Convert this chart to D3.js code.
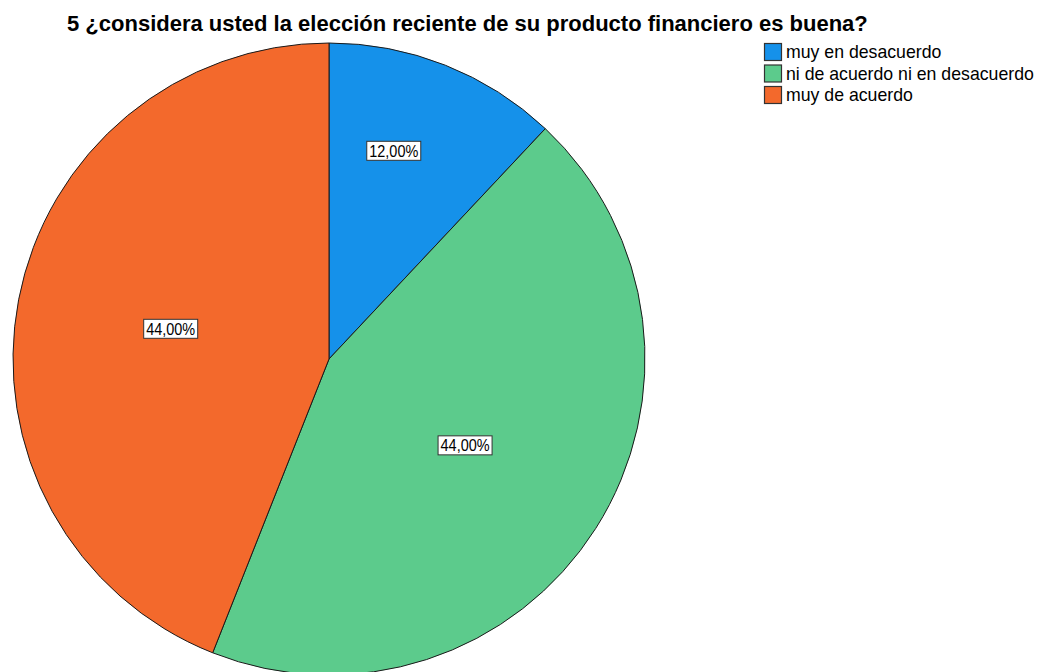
<!DOCTYPE html>
<html><head><meta charset="utf-8">
<script src="https://cdn.jsdelivr.net/npm/d3@7"></script>
<style>body{margin:0;background:#fff;} svg{display:block;}</style>
</head><body>
<svg id="c" width="1043" height="672"></svg>
<script>
const title = "5 ¿considera usted la elección reciente de su producto financiero es buena?";
const categories = ["muy en desacuerdo", "ni de acuerdo ni en desacuerdo", "muy de acuerdo"];
const values = [12, 44, 44];
const labels = ["12,00%", "44,00%", "44,00%"];
const colors = ["#1591ea", "#5ccb8c", "#f3692c"];

const FONT = "Liberation Sans, Arial, sans-serif";
const svg = d3.select("#c");
const cx = 329, cy = 359, r = 316;

svg.append("text").attr("x", 67).attr("y", 31)
  .attr("font-family", FONT).attr("font-weight", "bold")
  .attr("font-size", 22).attr("fill", "#000").text(title);

const pie = d3.pie().sort(null).value(d => d)(values);
const arc = d3.arc().innerRadius(0).outerRadius(r);
const g = svg.append("g").attr("transform", `translate(${cx},${cy})`);
g.selectAll("path").data(pie).join("path")
  .attr("d", arc).attr("fill", (d, i) => colors[i])
  .attr("stroke", "#1a1a1a").attr("stroke-width", 1);

const lab = g.selectAll("g.lab").data(pie).join("g").attr("class", "lab")
  .attr("transform", d => {
    const small = (d.endAngle - d.startAngle) < 1;
    const f = small ? 0.69 : 0.51;
    const a = d.startAngle + (d.endAngle - d.startAngle) * (small ? 0.4 : 0.5);
    return `translate(${Math.sin(a) * r * f},${-Math.cos(a) * r * f})`;
  });
lab.append("rect").attr("x", -27).attr("y", -9.5).attr("width", 54).attr("height", 19)
  .attr("fill", "#fff").attr("stroke", "#333").attr("stroke-width", 1);
lab.append("text").attr("text-anchor", "middle").attr("y", 5.8)
  .attr("font-family", FONT).attr("font-size", 17)
  .attr("textLength", 49).attr("lengthAdjust", "spacingAndGlyphs")
  .attr("fill", "#000").text((d, i) => labels[i]);

const leg = svg.append("g").attr("transform", "translate(764,43)");
const row = leg.selectAll("g").data(categories).join("g")
  .attr("transform", (d, i) => `translate(0,${i * 21.5})`);
row.append("rect").attr("x", 0.5).attr("y", 0.5).attr("width", 17).attr("height", 17)
  .attr("fill", (d, i) => colors[i]).attr("stroke", "#333").attr("stroke-width", 1.2);
row.append("text").attr("x", 22).attr("y", 15)
  .attr("font-family", FONT).attr("font-size", 17.7)
  .attr("fill", "#000").text(d => d);
</script>
</body></html>
